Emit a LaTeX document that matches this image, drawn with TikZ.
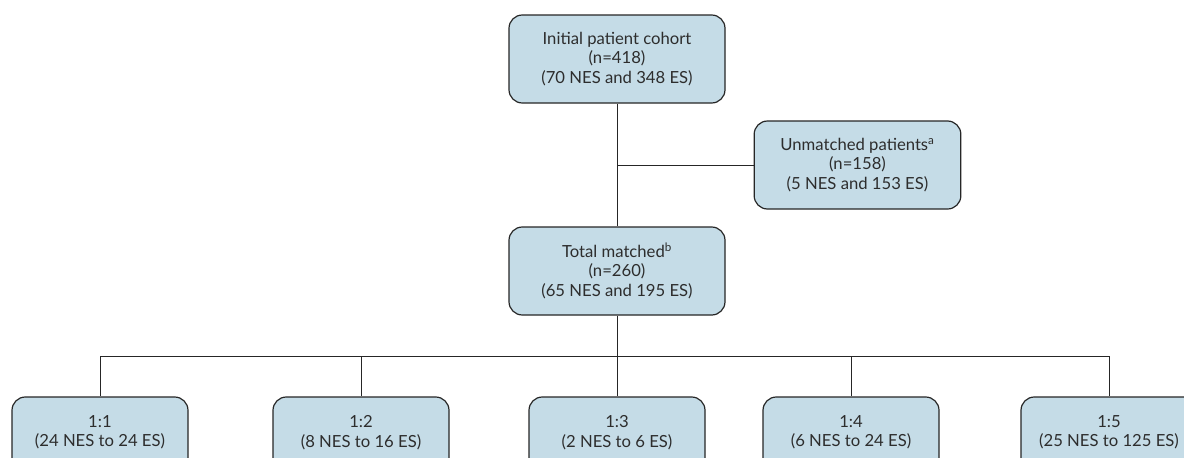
\documentclass[tikz,border=0pt]{standalone}
\usepackage{fontspec}
\setmainfont{Lato}
\definecolor{boxblue}{RGB}{197,220,231}
\definecolor{txtgray}{RGB}{45,45,45}
\begin{document}
\begin{tikzpicture}[x=0.75pt, y=-0.75pt,
    box/.style={draw=black!85, line width=0.9pt, fill=boxblue, rounded corners=10pt,
      align=center, text=txtgray, font=\fontsize{12.5}{14.6}\selectfont,
      minimum width=162pt, minimum height=66pt, inner sep=0pt},
    small/.style={box, minimum width=132pt},
    link/.style={draw=black!85, line width=0.75pt}]
        \clip (0,0) rectangle (1184,457);

        % Cohort and matching
        \node[box] (cohort) at (617, 59) {Initial patient cohort\\(n=418)\\(70 NES and 348 ES)};
        \node[box, minimum width=155pt] (unmatched) at (857.5, 165) {Unmatched patients\textsuperscript{a}\\(n=158)\\(5 NES and 153 ES)};
        \node[box] (matched) at (617, 271) {Total matched\textsuperscript{b}\\(n=260)\\(65 NES and 195 ES)};

        % Ratio groups
        \node[small] (r1) at (100, 441) {1:1\\(24 NES to 24 ES)\\\phantom{x}};
        \node[small] (r2) at (361, 441) {1:2\\(8 NES to 16 ES)\\\phantom{x}};
        \node[small] (r3) at (617, 441) {1:3\\(2 NES to 6 ES)\\\phantom{x}};
        \node[small] (r4) at (851, 441) {1:4\\(6 NES to 24 ES)\\\phantom{x}};
        \node[small] (r5) at (1109, 441) {1:5\\(25 NES to 125 ES)\\\phantom{x}};

        % Connectors
        \coordinate (split) at (617, 165);
        \coordinate (bar) at (617, 356);
        \draw[link] (cohort) -- (matched);
        \draw[link] (split) -- (unmatched);
        \draw[link] (matched) -- (bar);
        \draw[link] (bar -| r1) -- (bar -| r5);
        \foreach \r in {r1, r2, r3, r4, r5}
            \draw[link] (bar -| \r) -- (\r);
    \end{tikzpicture}
\end{document}
